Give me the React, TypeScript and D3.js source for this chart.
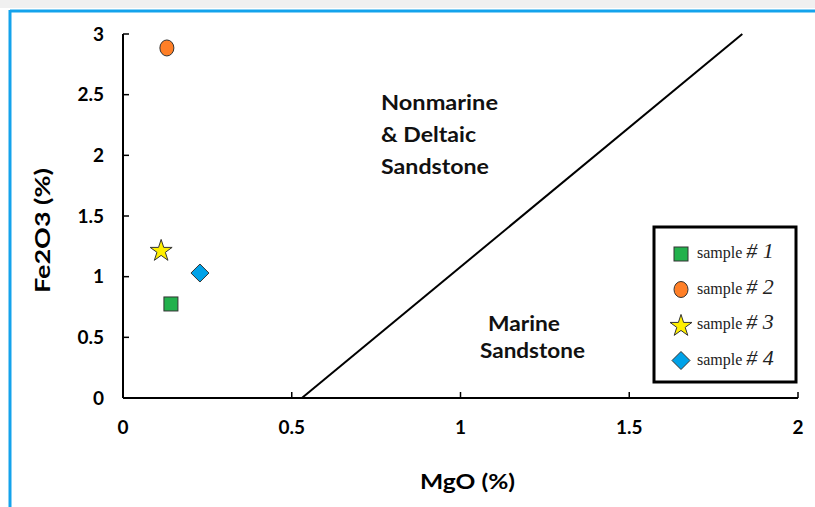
import React from "react";
import { scaleLinear, line, symbol, symbolStar } from "d3";

const W = 815;
const H = 507;

const xTicks = [0, 0.5, 1, 1.5, 2];
const yTicks = [0, 0.5, 1, 1.5, 2, 2.5, 3];

const sampleNames = ["1", "2", "3", "4"];
const sampleMgO = [0.142, 0.13, 0.113, 0.228];
const sampleFe2O3 = [0.775, 2.885, 1.22, 1.03];
const sampleShapes = ["square", "circle", "star", "diamond"];
const sampleColors = ["#22b14c", "#ff7f27", "#ffef00", "#00a2e8"];

// divider line between the two fields
const boundaryMgO = [0.53, 1.835];
const boundaryFe2O3 = [0, 3];

const font = "Lato, 'Open Sans', sans-serif";

function Marker({ shape, x, y, color }: { shape: string; x: number; y: number; color: string }) {
  const stroke = "#333";
  if (shape === "square")
    return <rect x={x - 7} y={y - 7} width={14} height={14} fill={color} stroke={stroke} strokeWidth={1} />;
  if (shape === "circle")
    return <ellipse cx={x} cy={y} rx={7} ry={8} fill={color} stroke={stroke} strokeWidth={1} />;
  if (shape === "diamond")
    return <path d={`M${x},${y - 9}L${x + 9},${y}L${x},${y + 9}L${x - 9},${y}Z`} fill={color} stroke={stroke} strokeWidth={1} />;
  const d = symbol().type(symbolStar).size(150)() as string;
  return <path d={d} transform={`translate(${x},${y + 1})`} fill={color} stroke={stroke} strokeWidth={1} />;
}

export default function App() {
  const x = scaleLinear().domain([0, 2]).range([123, 798]);
  const y = scaleLinear().domain([0, 3]).range([398, 34]);

  const boundary = line<number>()
    .x((d) => x(boundaryMgO[d]))
    .y((d) => y(boundaryFe2O3[d]))([0, 1]) as string;

  return (
    <svg width={W} height={H} style={{ position: "absolute", left: 0, top: 0, background: "#fff" }}>
      {/* frame */}
      <rect x={0} y={0} width={W} height={8} fill="#f0f0f0" />
      <line x1={10} y1={11} x2={W} y2={11} stroke="#14a3ec" strokeWidth={3} />
      <line x1={10} y1={10} x2={10} y2={H} stroke="#14a3ec" strokeWidth={3} />

      {/* axes */}
      <line x1={x(0)} y1={y(0)} x2={x(2)} y2={y(0)} stroke="#000" strokeWidth={2} />
      <line x1={x(0)} y1={y(0)} x2={x(0)} y2={y(3)} stroke="#000" strokeWidth={2} />
      {yTicks.map((t) => (
        <g key={"y" + t}>
          <line x1={x(0)} x2={x(0) + 6} y1={y(t)} y2={y(t)} stroke="#000" strokeWidth={1.5} />
          <text x={104} y={y(t)} dy="0.35em" textAnchor="end" fontFamily={font} fontWeight="bold" fontSize={19}>
            {t}
          </text>
        </g>
      ))}
      {xTicks.map((t) => (
        <g key={"x" + t}>
          <line x1={x(t)} x2={x(t)} y1={y(0)} y2={y(0) - 6} stroke="#000" strokeWidth={1.5} />
          <text x={x(t)} y={427} dy="0.35em" textAnchor="middle" fontFamily={font} fontWeight="bold" fontSize={19}>
            {t}
          </text>
        </g>
      ))}

      <text x={420} y={489} textLength={95} lengthAdjust="spacingAndGlyphs" fontFamily={font} fontWeight="bold" fontSize={21}>
        MgO (%)
      </text>
      <text transform="translate(50,293) rotate(-90)" textLength={125} lengthAdjust="spacingAndGlyphs" fontFamily={font} fontWeight="bold" fontSize={21}>
        Fe2O3 (%)
      </text>

      {/* boundary */}
      <path d={boundary} stroke="#000" strokeWidth={2} fill="none" />

      {/* field labels */}
      <g fontFamily={font} fontWeight="bold" fontSize={20} fill="#111">
        <text x={381} y={110} textLength={117} lengthAdjust="spacingAndGlyphs">Nonmarine</text>
        <text x={381} y={142} textLength={95} lengthAdjust="spacingAndGlyphs">&amp; Deltaic</text>
        <text x={381} y={174} textLength={108} lengthAdjust="spacingAndGlyphs">Sandstone</text>
        <text x={488} y={331} textLength={72} lengthAdjust="spacingAndGlyphs">Marine</text>
        <text x={480} y={358} textLength={105} lengthAdjust="spacingAndGlyphs">Sandstone</text>
      </g>

      {/* points */}
      {sampleNames.map((n, i) => (
        <Marker key={n} shape={sampleShapes[i]} x={x(sampleMgO[i])} y={y(sampleFe2O3[i])} color={sampleColors[i]} />
      ))}

      {/* legend */}
      <rect x={654} y={227} width={142} height={155} fill="#fff" stroke="#000" strokeWidth={3} />
      {sampleNames.map((n, i) => {
        const ly = 254 + i * 35.5;
        return (
          <g key={"l" + n}>
            <Marker shape={sampleShapes[i]} x={681} y={ly} color={sampleColors[i]} />
            <text x={697} y={ly + 4} fontFamily="'Liberation Serif', serif" fontSize={16} fill="#222">
              sample{" "}
              <tspan fontStyle="italic" fontSize={22}>
                # {n}
              </tspan>
            </text>
          </g>
        );
      })}
    </svg>
  );
}
